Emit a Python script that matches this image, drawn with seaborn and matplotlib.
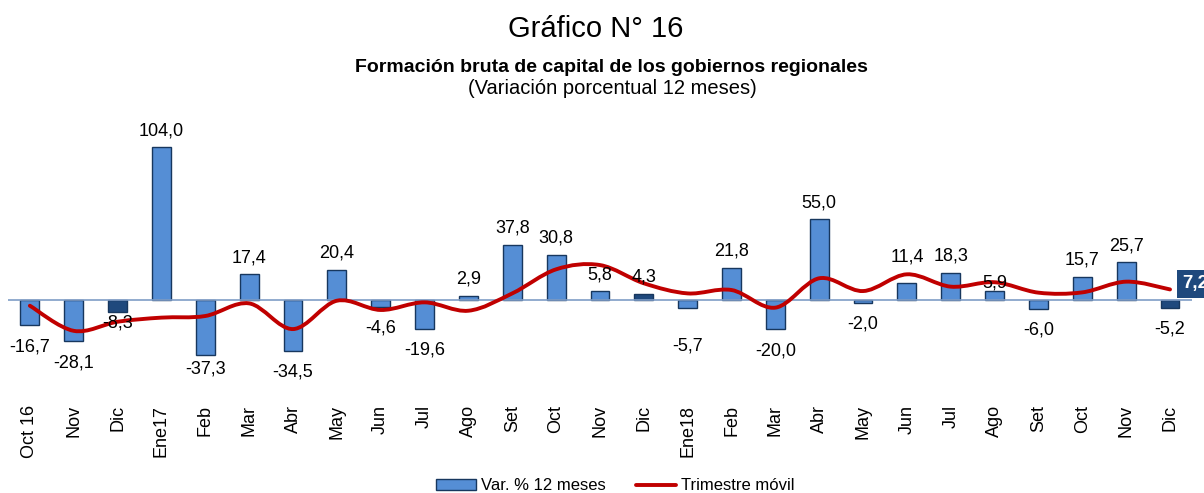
import numpy as np
import pandas as pd
import matplotlib
matplotlib.use("Agg")
import matplotlib.pyplot as plt
from matplotlib.path import Path
from matplotlib.patches import PathPatch, Patch
from matplotlib.lines import Line2D
import seaborn as sns

# datos
meses = ["Oct 16", "Nov", "Dic", "Ene17", "Feb", "Mar", "Abr", "May", "Jun", "Jul",
         "Ago", "Set", "Oct", "Nov", "Dic", "Ene18", "Feb", "Mar", "Abr", "May",
         "Jun", "Jul", "Ago", "Set", "Oct", "Nov", "Dic"]
var_12m = [-16.7, -28.1, -8.3, 104.0, -37.3, 17.4, -34.5, 20.4, -4.6, -19.6,
           2.9, 37.8, 30.8, 5.8, 4.3, -5.7, 21.8, -20.0, 55.0, -2.0,
           11.4, 18.3, 5.9, -6.0, 15.7, 25.7, -5.2]
trimestre = [-3.9, -21.0, -14.8, -12.0, -10.9, -2.3, -19.8, -0.5, -6.8, -1.6,
             -7.3, 4.5, 20.9, 23.8, 11.4, 4.5, 6.8, -5.2, 14.8, 6.1,
             17.5, 9.1, 12.1, 5.0, 5.2, 12.5, 7.2]
meses_dic = [2, 14, 26]  # barras de diciembre en azul oscuro

c_bar = "#558ED5"
c_dark = "#1F497D"
c_edge = "#17375E"
c_line = "#C00000"

sns.set_style("white")
plt.rcParams["font.family"] = ["Liberation Sans", "DejaVu Sans"]
plt.rcParams["text.color"] = "black"
plt.rcParams["xtick.color"] = "black"

df = pd.DataFrame({"pos": range(len(meses)), "mes": meses, "var": var_12m})
colores = [c_dark if i in meses_dic else c_bar for i in df["pos"]]

fig = plt.figure(figsize=(12.04, 4.93), dpi=100)
ax = fig.add_axes([0.0066, 0.1988, 0.9834, 0.5375])

sns.barplot(data=df, x="pos", y="var", hue="pos", palette=colores, legend=False,
            width=0.43, edgecolor=c_edge, linewidth=1, saturation=1, ax=ax)

ax.axhline(0, color="#7F9DC6", lw=1.2, zorder=1)

# linea suavizada (curva tipo Excel)
xs = np.arange(len(trimestre))
ys = np.array(trimestre)
verts = [(xs[0], ys[0])]
codes = [Path.MOVETO]
n = len(xs)
for i in range(n - 1):
    p0 = np.array([xs[max(i - 1, 0)], ys[max(i - 1, 0)]])
    p1 = np.array([xs[i], ys[i]])
    p2 = np.array([xs[i + 1], ys[i + 1]])
    p3 = np.array([xs[min(i + 2, n - 1)], ys[min(i + 2, n - 1)]])
    c1 = p1 + (p2 - p0) / 6
    c2 = p2 - (p3 - p1) / 6
    verts += [tuple(c1), tuple(c2), tuple(p2)]
    codes += [Path.CURVE4] * 3
ax.add_patch(PathPatch(Path(verts, codes), facecolor="none", edgecolor=c_line,
                       lw=2.8, zorder=4, capstyle="round"))

# etiquetas de datos (desplazamiento en puntos, algunas movidas a mano)
desplaz = {0: -16.5, 2: -8, 4: -10, 15: -27, 20: 19, 22: 6}
for i, v in enumerate(var_12m):
    off = desplaz.get(i, 12 if v >= 0 else -15.5)
    ax.annotate(f"{v:.1f}".replace(".", ","), (i, v), xytext=(0, off),
                textcoords="offset points", ha="center", va="center",
                fontsize=13, zorder=5)

ax.annotate(f"{trimestre[-1]:.1f}".replace(".", ","), (len(meses) - 1, trimestre[-1]),
            xytext=(9, 4), textcoords="offset points", ha="left", va="center",
            fontsize=13.5, fontweight="bold", color="white", zorder=6,
            bbox=dict(boxstyle="square,pad=0.3", fc=c_dark, ec="none"),
            annotation_clip=False)

ax.set_xlim(-0.5, len(meses) - 0.5)
ax.set_ylim(-64.7, 115.8)
ax.set_xticks(range(len(meses)))
ax.set_xticklabels(meses, rotation=90, ha="center", va="top", fontsize=13)
ax.tick_params(axis="x", length=0, pad=7)
ax.set_yticks([])
ax.set_xlabel("")
ax.set_ylabel("")
for s in ax.spines.values():
    s.set_visible(False)

fig.text(0.495, 0.941, "Gráfico N° 16", ha="center", va="center", fontsize=21)
fig.text(0.508, 0.864, "Formación bruta de capital de los gobiernos regionales",
         ha="center", va="center", fontsize=14, fontweight="bold")
fig.text(0.509, 0.821, "(Variación porcentual 12 meses)", ha="center", va="center", fontsize=14.5)

handles = [Patch(facecolor=c_bar, edgecolor=c_edge, lw=1),
           Line2D([0], [0], color=c_line, lw=2.8)]
fig.legend(handles, ["Var. % 12 meses", "Trimestre móvil"], loc="center",
           bbox_to_anchor=(0.511, 0.015), ncol=2, frameon=False, fontsize=12,
           handlelength=2.4, handleheight=0.6, handletextpad=0.3, columnspacing=1.8)

fig.savefig("out.png", dpi=100)
